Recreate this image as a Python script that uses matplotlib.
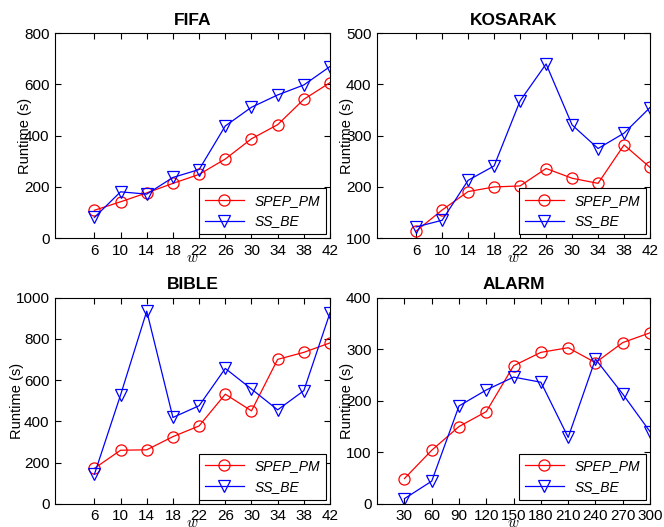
import numpy as np
import matplotlib
matplotlib.use('Agg')
import matplotlib.pyplot as plt

plt.rcParams['font.family'] = ['Liberation Sans', 'DejaVu Sans']
plt.rcParams['mathtext.fontset'] = 'cm'

# data
w = [6, 10, 14, 18, 22, 26, 30, 34, 38, 42]
w_alarm = [30, 60, 90, 120, 150, 180, 210, 240, 270, 300]

fifa_spep = [109, 142, 177, 214, 249, 309, 388, 443, 542, 607]
fifa_ss = [81, 181, 172, 237, 268, 438, 511, 559, 598, 670]

kosarak_spep = [114, 155, 191, 200, 202, 236, 217, 207, 282, 238]
kosarak_ss = [122, 135, 213, 241, 368, 440, 321, 275, 305, 355]

bible_spep = [172, 260, 262, 326, 378, 532, 451, 701, 735, 781]
bible_ss = [143, 528, 935, 419, 476, 657, 557, 456, 549, 927]

alarm_spep = [49, 104, 150, 179, 268, 294, 303, 274, 313, 332]
alarm_ss = [10, 44, 190, 221, 246, 236, 129, 281, 213, 140]

panels = [
    ('FIFA', w, fifa_spep, fifa_ss, (0, 42), (0, 800), np.arange(0, 801, 200)),
    ('KOSARAK', w, kosarak_spep, kosarak_ss, (0, 42), (100, 500), np.arange(100, 501, 100)),
    ('BIBLE', w, bible_spep, bible_ss, (0, 42), (0, 1000), np.arange(0, 1001, 200)),
    ('ALARM', w_alarm, alarm_spep, alarm_ss, (0, 300), (0, 400), np.arange(0, 401, 100)),
]

positions = [
    [0.083, 0.548, 0.414, 0.389],
    [0.568, 0.548, 0.411, 0.389],
    [0.083, 0.044, 0.414, 0.391],
    [0.568, 0.044, 0.411, 0.391],
]

fig = plt.figure(figsize=(6.64, 5.27), dpi=100)

for (name, x, spep, ss, xl, yl, yt), pos in zip(panels, positions):
    ax = fig.add_axes(pos)
    ax.plot(x, spep, color='red', lw=0.9, marker='o', ms=8, mfc='none', mew=0.9, label='SPEP_PM')
    ax.plot(x, ss, color='blue', lw=0.9, marker='v', ms=8.5, mfc='none', mew=0.9, label='SS_BE')
    ax.set_xlim(xl)
    ax.set_ylim(yl)
    ax.set_xticks(x)
    ax.set_yticks(yt)
    ax.tick_params(direction='in', labelsize=11, length=4, top=True, right=True, pad=4)
    ax.set_title(name, fontsize=12.5, fontweight='bold', pad=6)
    ax.set_ylabel('Runtime (s)', fontsize=10.5, labelpad=-6)
    ax.set_xlabel('$w$', fontsize=11, labelpad=-5)
    leg = ax.legend(loc='lower right', handlelength=2.8,
                    fancybox=False, framealpha=1, edgecolor='black',
                    borderaxespad=0.3, prop={'style': 'italic', 'size': 10})
    leg.get_frame().set_linewidth(0.8)

fig.savefig('out.png', dpi=100)
